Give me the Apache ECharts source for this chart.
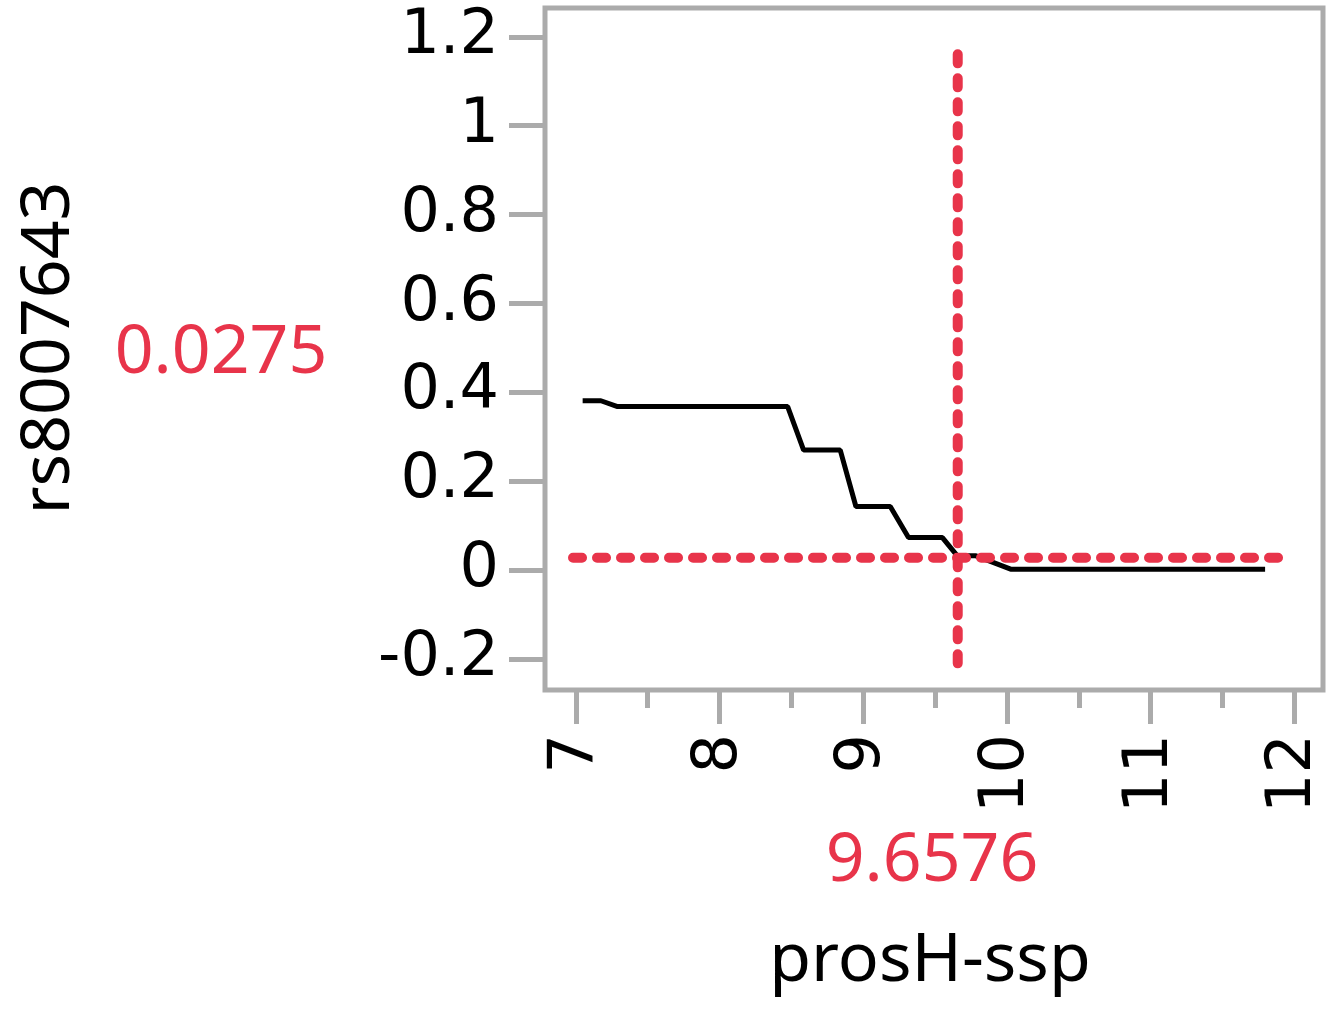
<!DOCTYPE html>
<html><head><meta charset="utf-8">
<script src="https://cdn.jsdelivr.net/npm/echarts@6/dist/echarts.min.js"></script>
<style>html,body{margin:0;padding:0;background:#fff}#c{width:1326px;height:1010px}</style>
</head><body><div id="c"></div>
<script>
// Data
const lineX = [7.047, 7.174, 7.290, 8.474, 8.585, 8.840, 8.949, 9.188, 9.315, 9.551, 9.655, 9.785, 10.026, 11.797];
const lineY = [0.381, 0.381, 0.368, 0.368, 0.270, 0.270, 0.143, 0.143, 0.073, 0.073, 0.032, 0.032, 0.002, 0.002];
const crossX = 9.6576;
const crossY = 0.0275;
const vLineY = [-0.21, 1.18];
const hLineX = [6.98, 11.92];
const xTicks = [7, 8, 9, 10, 11, 12];
const xMinorTicks = [7.5, 8.5, 9.5, 10.5, 11.5];
const yTicks = [-0.2, 0, 0.2, 0.4, 0.6, 0.8, 1.0, 1.2];
const xTitle = 'prosH-ssp';
const yTitle = 'rs8007643';

const RED = '#e8344a';
const GRAY = '#ababab';
const xMin = 6.785, xMax = 12.2, yMin = -0.27, yMax = 1.265;

const chart = echarts.init(document.getElementById('c'), null, {renderer: 'canvas'});
const fmtY = v => String(+(+v).toFixed(1));
const option = {
  animation: false,
  grid: {left: 545, top: 8, width: 778, height: 682, show: true, borderColor: GRAY, borderWidth: 5, backgroundColor: '#fff'},
  xAxis: [{
    type: 'value', min: xMin, max: xMax, position: 'bottom',
    axisLine: {show: false, onZero: false},
    splitLine: {show: false},
    axisTick: {show: true, customValues: xTicks, length: 34, lineStyle: {color: GRAY, width: 5}},
    axisLabel: {show: true, customValues: xTicks, rotate: 90, margin: 44, fontFamily: 'DejaVu Sans', fontSize: 62, color: '#000', formatter: v => String(v)}
  }, {
    type: 'value', min: xMin, max: xMax, position: 'bottom',
    axisLine: {show: false, onZero: false}, splitLine: {show: false},
    axisTick: {show: true, customValues: xMinorTicks, length: 18, lineStyle: {color: GRAY, width: 5}},
    axisLabel: {show: false}
  }],
  yAxis: {
    type: 'value', min: yMin, max: yMax,
    axisLine: {show: false, onZero: false}, splitLine: {show: false},
    axisTick: {show: true, customValues: yTicks, length: 36, lineStyle: {color: GRAY, width: 5}},
    axisLabel: {show: true, customValues: yTicks, margin: 46, fontFamily: 'DejaVu Sans', fontSize: 62, color: '#000', formatter: fmtY}
  },
  series: [{
    type: 'line', xAxisIndex: 0, showSymbol: false, symbol: 'none',
    data: lineX.map((x, i) => [x, lineY[i]]),
    lineStyle: {color: '#000', width: 5}, z: 3
  }, {
    type: 'line', showSymbol: false, symbol: 'none',
    data: [[crossX, vLineY[0]], [crossX, vLineY[1]]],
    lineStyle: {color: RED, width: 10, type: [9, 15], cap: 'round'}, z: 4
  }, {
    type: 'line', showSymbol: false, symbol: 'none',
    data: [[hLineX[0], crossY], [hLineX[1], crossY]],
    lineStyle: {color: RED, width: 10, type: [9, 15], cap: 'round'}, z: 4
  }],
  graphic: [
    {type: 'text', style: {text: yTitle, fontFamily: 'Noto Sans', fontSize: 68, fill: '#000', textAlign: 'center', textVerticalAlign: 'middle'}, position: [50, 348], rotation: Math.PI / 2},
    {type: 'text', style: {text: crossY.toString(), fontFamily: 'Noto Sans', fontSize: 68, fill: RED, textAlign: 'center', textVerticalAlign: 'middle'}, position: [221, 354]},
    {type: 'text', style: {text: crossX.toString(), fontFamily: 'Noto Sans', fontSize: 68, fill: RED, textAlign: 'center', textVerticalAlign: 'middle'}, position: [932, 862]},
    {type: 'text', style: {text: xTitle, fontFamily: 'Noto Sans', fontSize: 68, fill: '#000', textAlign: 'center', textVerticalAlign: 'middle'}, position: [930, 962]}
  ]
};
chart.setOption(option);
</script></body></html>
